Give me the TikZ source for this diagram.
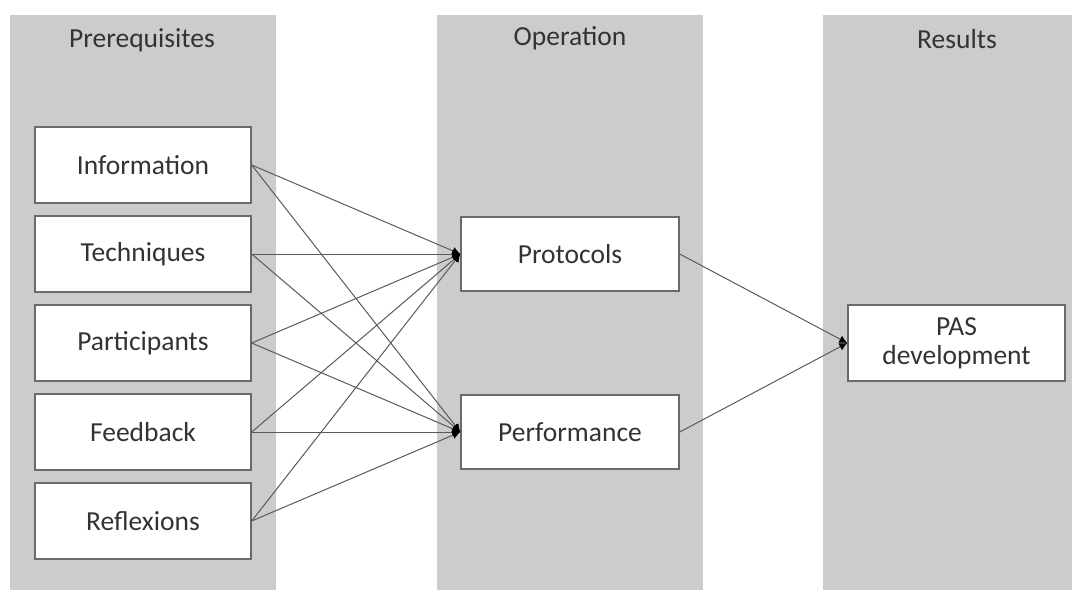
\documentclass[tikz,border=0pt]{standalone}
\usepackage{fontspec}
\setmainfont{Carlito}
\usetikzlibrary{arrows.meta}
\definecolor{colgray}{HTML}{CBCCCE}
\definecolor{boxline}{HTML}{6A6A6A}
\definecolor{txt}{HTML}{333333}
\definecolor{linkgray}{HTML}{5A5A5A}
\tikzset{
  column/.style={fill=colgray, draw=none},
  title/.style={text=txt, font=\fontsize{27.5}{32}\selectfont, anchor=center},
  box/.style={draw=boxline, line width=1.4pt, fill=white, minimum width=216pt, minimum height=76pt, inner sep=0pt, text=txt, font=\fontsize{27.5}{32}\selectfont, align=center},
  link/.style={draw=linkgray, line width=1pt, -{Latex[length=8pt,width=8pt,fill=black,color=black]}}
}
\begin{document}
\begin{tikzpicture}[x=1pt,y=-1pt]
\useasboundingbox (0,0) rectangle (1072,590);
\fill[column] (10,15) rectangle (276,590);
\fill[column] (437,15) rectangle (703,590);
\fill[column] (823,15) rectangle (1072,590);
\node[title] (t1) at (142,40) {Prerequisites};
\node[title] (t2) at (570,38) {Operation};
\node[title] (t3) at (957,39) {Results};
\node[box] (inf) at (143,165) {Information};
\node[box] (tec) at (143,254) {Techniques};
\node[box] (par) at (143,343) {Participants};
\node[box] (fee) at (143,432) {Feedback};
\node[box] (ref) at (143,521) {Reflexions};
\node[box, minimum width=218pt, minimum height=74pt] (pro) at (570,254) {Protocols};
\node[box, minimum width=218pt, minimum height=74pt] (per) at (570,432) {Performance};
\node[box, minimum width=217pt, minimum height=76pt, font=\fontsize{27.5}{29}\selectfont] (pas) at (956.5,343) {PAS\\development};
\foreach \s in {inf,tec,par,fee,ref}{
  \draw[link] (\s.east) -- (pro.west);
  \draw[link] (\s.east) -- (per.west);
}
\draw[link] (pro.east) -- (pas.west);
\draw[link] (per.east) -- (pas.west);
\end{tikzpicture}
\end{document}
